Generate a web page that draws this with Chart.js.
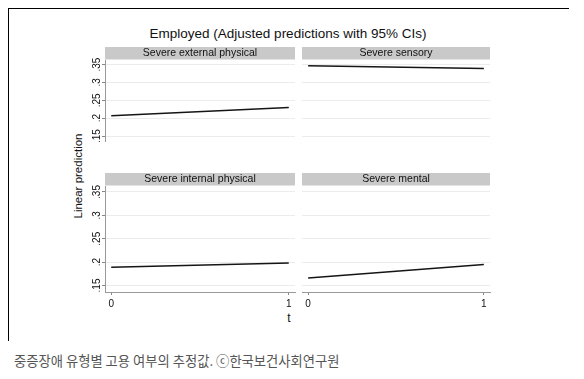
<!DOCTYPE html>
<html>
<head>
<meta charset="utf-8">
<script src="https://cdn.jsdelivr.net/npm/chart.js@4/dist/chart.umd.min.js"></script>
<style>
  html, body { margin:0; padding:0; background:#fff; }
  body { width:584px; height:379px; position:relative; overflow:hidden; font-family:"Liberation Sans", Arial, sans-serif; }
  canvas { position:absolute; }
  .txt { position:absolute; white-space:nowrap; color:#111; }
</style>
</head>
<body>
<div style="position:absolute;left:8px;top:8px;width:561px;height:0;border-top:1.6px solid #000;"></div>
<div style="position:absolute;left:8px;top:8px;width:0;height:333px;border-left:1.6px solid #000;"></div>

<div class="txt" id="title" style="left:288px;top:33px;transform:translate(-50%,-50%);font-size:13.5px;"></div>
<div class="txt" id="ytitle" style="left:78px;top:176px;transform:translate(-50%,-50%) rotate(-90deg);font-size:11.5px;"></div>
<div class="txt" id="xtitle" style="left:289px;top:318px;transform:translate(-50%,-50%);font-size:12px;"></div>
<div class="txt" id="caption" style="left:14px;top:360px;transform:translate(0,-50%);font-size:13.3px;color:#555;font-family:'Noto Sans CJK KR','Noto Sans',sans-serif;"></div>

<canvas id="c0" width="240" height="120" style="left:60px;top:46px;"></canvas>
<canvas id="c1" width="195" height="120" style="left:300px;top:46px;"></canvas>
<canvas id="c2" width="240" height="145" style="left:60px;top:172px;"></canvas>
<canvas id="c3" width="195" height="145" style="left:300px;top:172px;"></canvas>

<script>
// ---- data ----
const chartTitle = "Employed (Adjusted predictions with 95% CIs)";
const yAxisTitle = "Linear prediction";
const xAxisTitle = "t";
const captionText = "중증장애 유형별 고용 여부의 추정값. ⓒ한국보건사회연구원";
const panels = ["Severe external physical", "Severe sensory", "Severe internal physical", "Severe mental"];
const tValues = [0, 1];
const externalPhysical = [0.207, 0.230];
const sensory = [0.347, 0.339];
const internalPhysical = [0.189, 0.198];
const mental = [0.166, 0.195];
const seriesValues = [externalPhysical, sensory, internalPhysical, mental];
const yTickValues = [0.15, 0.20, 0.25, 0.30, 0.35];
const yTickLabels = [".15", ".2", ".25", ".3", ".35"];
const xTickValues = [0, 1];
const xTickLabels = ["0", "1"];

document.getElementById('title').textContent = chartTitle;
document.getElementById('ytitle').textContent = yAxisTitle;
document.getElementById('xtitle').textContent = xAxisTitle;
document.getElementById('caption').textContent = captionText;

const FONT = "'Liberation Sans', Arial, sans-serif";

const headerPlugin = {
  id: 'panelHeader',
  beforeDraw(chart, args, opts) {
    const {ctx, chartArea} = chart;
    ctx.save();
    ctx.fillStyle = '#c9c9c9';
    ctx.fillRect(chartArea.left, chartArea.top - 13, chartArea.right - chartArea.left, 12.5);
    ctx.fillStyle = '#111';
    ctx.font = '10.5px ' + FONT;
    ctx.textAlign = 'center';
    ctx.textBaseline = 'middle';
    ctx.fillText(opts.text, (chartArea.left + chartArea.right) / 2, chartArea.top - 6.5);
    ctx.restore();
  }
};

function makePanel(idx) {
  const isLeft = idx % 2 === 0;
  const isBottom = idx >= 2;
  const ctx = document.getElementById('c' + idx);
  new Chart(ctx, {
    type: 'line',
    data: {
      datasets: [{
        data: tValues.map((t, i) => ({x: t, y: seriesValues[idx][i]})),
        borderColor: '#151515',
        borderWidth: 1.5,
        pointRadius: 0,
        tension: 0
      }]
    },
    plugins: [headerPlugin],
    options: {
      responsive: false,
      animation: false,
      devicePixelRatio: 1,
      layout: { padding: { top: 14, left: isLeft ? 0 : 2, right: 5, bottom: 0 } },
      plugins: {
        legend: { display: false },
        tooltip: { enabled: false },
        panelHeader: { text: panels[idx] }
      },
      scales: {
        x: {
          type: 'linear',
          min: -0.035, max: 1.035,
          display: isBottom,
          afterBuildTicks: s => { s.ticks = xTickValues.map(v => ({value: v})); },
          afterFit: s => { s.height = 25; },
          grid: { drawOnChartArea: false, drawTicks: true, tickLength: 3, tickColor: '#888', tickWidth: 1 },
          border: { display: true, color: '#999', width: 1 },
          ticks: {
            color: '#111', padding: 3,
            font: { family: FONT, size: 10 },
            callback: (v) => xTickLabels[xTickValues.indexOf(v)]
          }
        },
        y: {
          type: 'linear',
          min: 0.1361, max: 0.3628,
          afterBuildTicks: s => { s.ticks = yTickValues.map(v => ({value: v})); },
          afterFit: s => { s.width = isLeft ? 45 : 0; },
          grid: { color: '#ececec', lineWidth: 1, drawTicks: isLeft, tickLength: 3, tickColor: '#888' },
          border: { display: isLeft, color: '#999', width: 1 },
          ticks: {
            display: isLeft,
            color: '#111', padding: -2,
            minRotation: 90, maxRotation: 90,
            crossAlign: 'center',
            font: { family: FONT, size: 10 },
            callback: (v) => {
              const i = yTickValues.findIndex(t => Math.abs(t - v) < 1e-9);
              return i >= 0 ? yTickLabels[i] : '';
            }
          }
        }
      }
    }
  });
}
[0,1,2,3].forEach(makePanel);
</script>
</body>
</html>
